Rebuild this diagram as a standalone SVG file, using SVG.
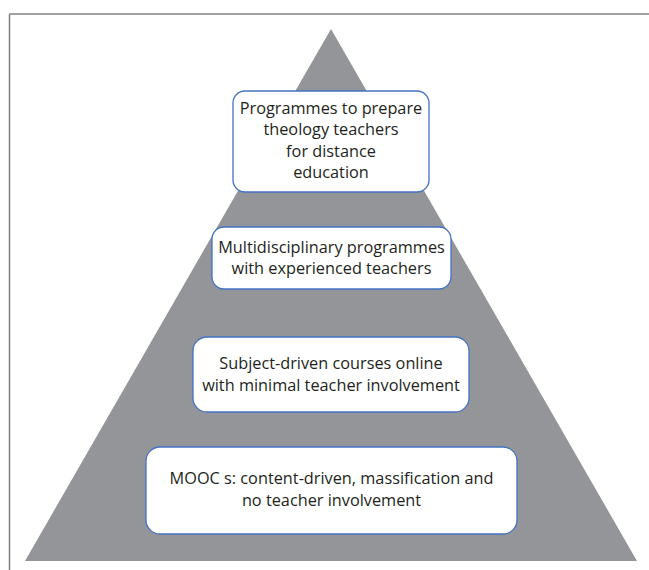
<svg xmlns="http://www.w3.org/2000/svg" width="649" height="570" viewBox="0 0 649 570">
<style>
.frame{stroke:#7f7f7f;stroke-width:1.5;fill:none}
.box{fill:#ffffff;stroke:#4472c4;stroke-width:1.3}
.lbl{font-family:"Open Sans","Noto Sans",sans-serif;font-size:16.3px;fill:#231f20;text-anchor:middle}
</style>
<rect width="649" height="570" fill="#ffffff"/>
<g id="frame">
<line class="frame" x1="9.5" y1="14" x2="649" y2="14"/>
<line class="frame" x1="9.5" y1="14" x2="9.5" y2="570"/>
</g>
<g id="pyramid">
<polygon points="331,29 637,561 25,561" fill="#939598"/>
</g>
<g id="connectors"></g>
<g id="level1">
<rect class="box" x="233" y="91" width="196" height="101" rx="12"/>
<text class="lbl" x="331" y="113.5">Programmes to prepare</text>
<text class="lbl" x="331" y="135">theology teachers</text>
<text class="lbl" x="331" y="156.5">for distance</text>
<text class="lbl" x="331" y="178">education</text>
</g>
<g id="level2">
<rect class="box" x="212" y="227" width="239" height="62" rx="12"/>
<text class="lbl" x="331.5" y="252.5">Multidisciplinary programmes</text>
<text class="lbl" x="331.5" y="274">with experienced teachers</text>
</g>
<g id="level3">
<rect class="box" x="193" y="337" width="276" height="75" rx="14"/>
<text class="lbl" x="331" y="368.5">Subject-driven courses online</text>
<text class="lbl" x="331" y="390.5">with minimal teacher involvement</text>
</g>
<g id="level4">
<rect class="box" x="146" y="447" width="371" height="87" rx="14"/>
<text class="lbl" x="331.5" y="483.5">MOOC s: content-driven, massification and</text>
<text class="lbl" x="331.5" y="505.5">no teacher involvement</text>
</g>
</svg>
